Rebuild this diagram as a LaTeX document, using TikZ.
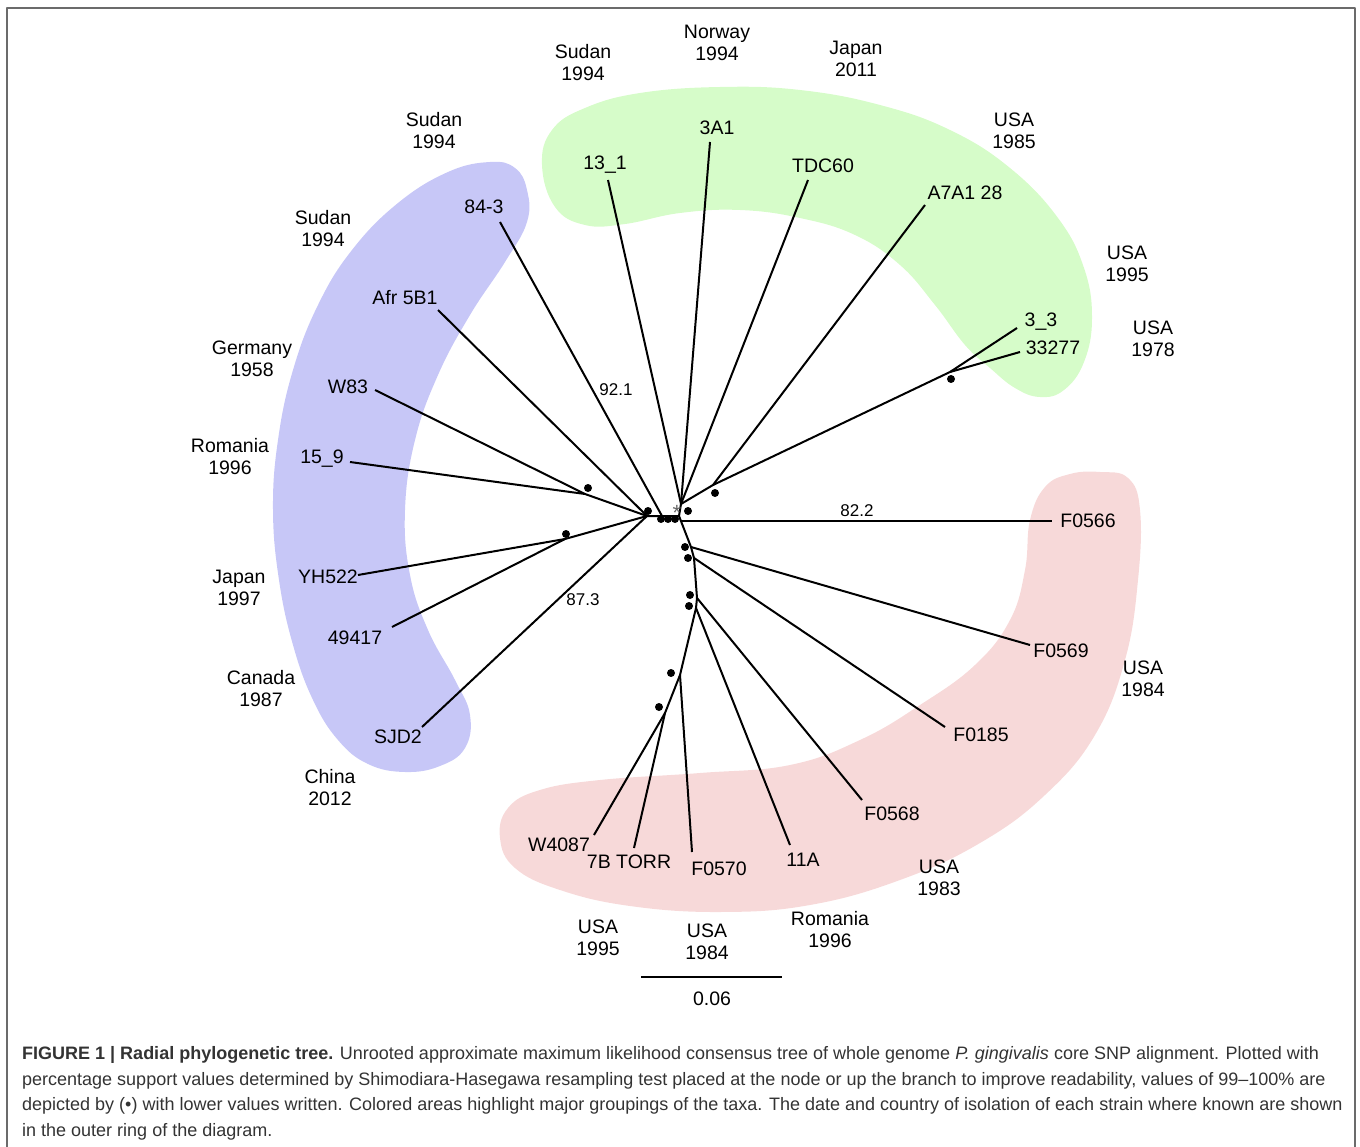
\documentclass[tikz,border=0pt]{standalone}
\usepackage{fontspec}
\setmainfont{Liberation Sans}
\usepackage{tikz}
\usetikzlibrary{arrows}
\definecolor{bluegroup}{rgb}{0.78, 0.78, 0.97}
\definecolor{greengroup}{rgb}{0.84, 0.99, 0.79}
\definecolor{redgroup}{rgb}{0.97, 0.85, 0.85}
\definecolor{framegray}{rgb}{0.42, 0.42, 0.42}
\definecolor{captiontext}{rgb}{0.2, 0.2, 0.2}

\begin{document}
\begin{tikzpicture}[x=1pt, y=-1pt, line join=round,
    branch/.style={line width=2pt},
    taxon/.style={font=\fontsize{19.5}{22}\selectfont},
    origin/.style={align=center, font=\fontsize{19.5}{22}\selectfont},
    support/.style={font=\fontsize{17}{19}\selectfont},
    caption/.style={anchor=base west, inner sep=0pt, text=captiontext, font=\fontsize{18}{21}\selectfont}]
\useasboundingbox (0,0) rectangle (1360,1147);

% frame
\draw[framegray, line width=2pt] (7,1170) -- (7,8) -- (1355,8) -- (1355,1170);

% blue group
\fill[bluegroup] plot[smooth cycle, tension=0.7] coordinates {
  (490,162) (515,168) (527,190) (527,222) (505,262) (470,315) (438,375)
  (415,440) (405,510) (410,575) (428,630) (455,680) (470,715) (465,748)
  (440,766) (405,772) (368,764) (338,740) (313,700) (293,645) (279,580)
  (273,510) (278,440) (293,370) (318,305) (352,250) (398,203) (448,172)};
% green group
\fill[greengroup] plot[smooth cycle, tension=0.7] coordinates {
  (542,165) (552,130) (585,108) (640,93) (720,87) (800,90) (880,105)
  (950,130) (1010,168) (1058,218) (1084,268) (1092,318) (1084,362)
  (1064,390) (1040,397) (1015,388) (990,368) (965,345) (935,305)
  (900,265) (855,235) (800,218) (740,210) (680,213) (625,224) (585,225) (555,207)};
% red group
\fill[redgroup] plot[smooth cycle, tension=0.7] coordinates {
  (1100,472) (1128,478) (1140,510) (1138,580) (1125,660) (1095,735)
  (1045,795) (980,843) (900,880) (810,905) (720,912) (630,906) (560,890)
  (515,868) (500,838) (508,808) (540,790) (600,780) (700,773) (790,765)
  (860,740) (920,705) (975,665) (1010,620) (1025,570) (1030,520)
  (1045,487) (1070,474)};

% inner nodes
\coordinate (C) at (679,516);
\coordinate (C2) at (681,521);
\coordinate (hA) at (662,516);
\coordinate (L) at (647,516);
\coordinate (U) at (681,504);
\coordinate (J1) at (713,485);
\coordinate (J2) at (950,372);
\coordinate (WJ) at (585,494);
\coordinate (YJ) at (565,539);
\coordinate (D1) at (691,547);
\coordinate (D2) at (694,558);
\coordinate (D3) at (697,598);
\coordinate (D4) at (696,608);
\coordinate (D5) at (680,675);
\coordinate (D6) at (665,713);

% tips
\coordinate (t131) at (608,180);
\coordinate (t3A1) at (710,142);
\coordinate (tTDC) at (808,180);
\coordinate (tA7A1) at (925,205);
\coordinate (t33) at (1017,328);
\coordinate (t33277) at (1020,352);
\coordinate (t843) at (500,222);
\coordinate (tAfr) at (438,310);
\coordinate (tW83) at (375,390);
\coordinate (t159) at (350,462);
\coordinate (tYH) at (358,575);
\coordinate (t494) at (392,627);
\coordinate (tSJD) at (422,727);
\coordinate (tF0566) at (1052,521);
\coordinate (tF0569) at (1030,645);
\coordinate (tF0185) at (945,727);
\coordinate (tF0568) at (862,800);
\coordinate (t11A) at (790,845);
\coordinate (tF0570) at (692,852);
\coordinate (t7B) at (634,848);
\coordinate (tW4087) at (594,835);

% branches
\draw[branch] (L) -- (C) -- (U);
\draw[branch] (U) -- (t131);
\draw[branch] (U) -- (t3A1);
\draw[branch] (U) -- (tTDC);
\draw[branch] (U) -- (J1) -- (J2) -- (t33);
\draw[branch] (J2) -- (t33277);
\draw[branch] (J1) -- (tA7A1);
\draw[branch] (hA) -- (t843);
\draw[branch] (L) -- (tAfr);
\draw[branch] (L) -- (WJ) -- (tW83);
\draw[branch] (WJ) -- (t159);
\draw[branch] (L) -- (YJ) -- (tYH);
\draw[branch] (YJ) -- (t494);
\draw[branch] (L) -- (tSJD);
\draw[branch] (C2) -- (tF0566);
\draw[branch] (C) -- (D1) -- (D2) -- (D3) -- (D4) -- (D5) -- (D6) -- (tW4087);
\draw[branch] (D6) -- (t7B);
\draw[branch] (D5) -- (tF0570);
\draw[branch] (D4) -- (t11A);
\draw[branch] (D3) -- (tF0568);
\draw[branch] (D2) -- (tF0185);
\draw[branch] (D1) -- (tF0569);

% support dots
\foreach \x/\y in {588/488, 566/534, 648/511, 661/519, 668/519, 675/519,
    688/511, 715/493, 951/379, 685/547, 688/558, 690/595, 689/606, 671/673, 659/707}
  \fill (\x,\y) circle (4pt);
\node[text=gray!80!black, font=\fontsize{22}{22}\selectfont, inner sep=0pt] (star) at (677,513) {*};

% support values
\node[support] (s921) at (616,390) {92.1};
\node[support] (s873) at (583,600) {87.3};
\node[support] (s822) at (857,511) {82.2};

% taxa
\node[taxon] (n131) at (605,165) {13\_1};
\node[taxon] (n3A1) at (717,128) {3A1};
\node[taxon] (nTDC) at (823,166) {TDC60};
\node[taxon] (nA7A1) at (965,193) {A7A1 28};
\node[taxon] (n33) at (1041,322) {3\_3};
\node[taxon] (n33277) at (1053,348) {33277};
\node[taxon] (n843) at (484,207) {84-3};
\node[taxon] (nAfr) at (405,298) {Afr 5B1};
\node[taxon] (nW83) at (348,387) {W83};
\node[taxon] (n159) at (322,459) {15\_9};
\node[taxon] (nYH) at (328,577) {YH522};
\node[taxon] (n494) at (355,638) {49417};
\node[taxon] (nSJD) at (398,737) {SJD2};
\node[taxon] (nF0566) at (1088,521) {F0566};
\node[taxon] (nF0569) at (1061,651) {F0569};
\node[taxon] (nF0185) at (981,735) {F0185};
\node[taxon] (nF0568) at (892,814) {F0568};
\node[taxon] (n11A) at (803,860) {11A};
\node[taxon] (nF0570) at (719,869) {F0570};
\node[taxon] (n7B) at (629,862) {7B TORR};
\node[taxon] (nW4087) at (559,845) {W4087};

% country and year
\node[origin] (oSud1) at (583,63) {Sudan\\1994};
\node[origin] (oNor) at (717,43) {Norway\\1994};
\node[origin] (oJap1) at (856,59) {Japan\\2011};
\node[origin] (oUSA85) at (1014,131) {USA\\1985};
\node[origin] (oUSA95a) at (1127,264) {USA\\1995};
\node[origin] (oUSA78) at (1153,339) {USA\\1978};
\node[origin] (oSud2) at (434,131) {Sudan\\1994};
\node[origin] (oSud3) at (323,229) {Sudan\\1994};
\node[origin] (oGer) at (252,359) {Germany\\1958};
\node[origin] (oRom1) at (230,457) {Romania\\1996};
\node[origin] (oJap2) at (239,588) {Japan\\1997};
\node[origin] (oCan) at (261,689) {Canada\\1987};
\node[origin] (oChi) at (330,788) {China\\2012};
\node[origin] (oUSA84a) at (1143,679) {USA\\1984};
\node[origin] (oUSA83) at (939,878) {USA\\1983};
\node[origin] (oRom2) at (830,930) {Romania\\1996};
\node[origin] (oUSA84b) at (707,942) {USA\\1984};
\node[origin] (oUSA95b) at (598,938) {USA\\1995};

% scale bar
\coordinate (sbL) at (641,977);
\coordinate (sbR) at (782,977);
\draw[branch] (sbL) -- (sbR);
\node[taxon] (sbtext) at (712,999) {0.06};

% caption
\node[caption] (cap1) at (22,1059) {\textbf{FIGURE 1 | Radial phylogenetic tree.} Unrooted approximate maximum likelihood consensus tree of whole genome \textit{P. gingivalis} core SNP alignment. Plotted with};
\node[caption] (cap2) at (22,1085) {percentage support values determined by Shimodiara-Hasegawa resampling test placed at the node or up the branch to improve readability, values of 99--100\% are};
\node[caption] (cap3) at (22,1110) {depicted by (\textbullet) with lower values written. Colored areas highlight major groupings of the taxa. The date and country of isolation of each strain where known are shown};
\node[caption] (cap4) at (22,1136) {in the outer ring of the diagram.};
\end{tikzpicture}
\end{document}
